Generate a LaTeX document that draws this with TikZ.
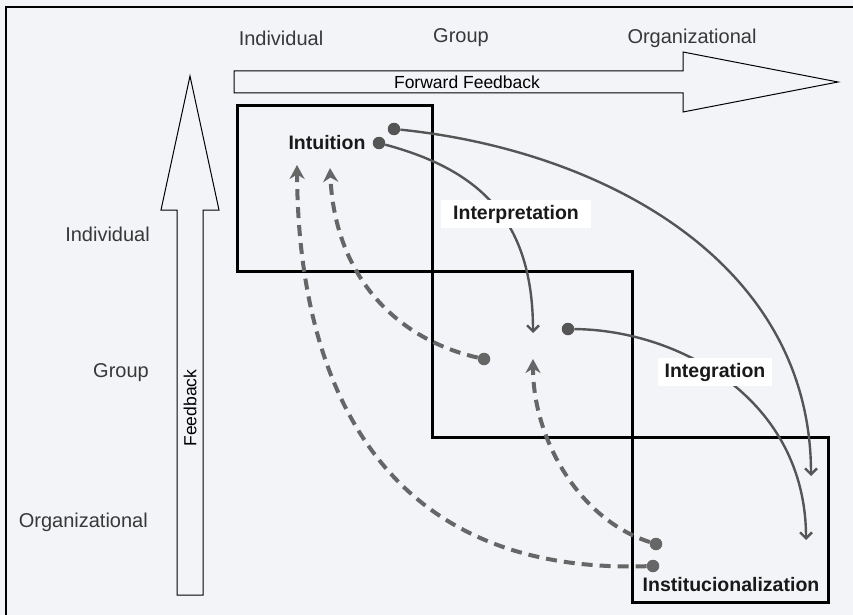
\documentclass[tikz,border=0pt]{standalone}
\usepackage{fontspec}
\setmainfont{Liberation Sans}
\usetikzlibrary{arrows.meta}
\definecolor{paper}{HTML}{F3F4F8}
\definecolor{flow}{HTML}{555555}
\definecolor{back}{HTML}{666666}
\definecolor{ink}{HTML}{383838}

\begin{document}
\begin{tikzpicture}[x=1pt,y=-1pt,
  level/.style={font=\fontsize{20}{24}\selectfont, text=ink, inner sep=0pt},
  stage/.style={font=\bfseries\fontsize{19.5}{23}\selectfont, text=black!90, inner sep=2pt},
  band/.style={draw=black, line width=3pt},
  bigarrow/.style={draw=black, line width=1pt, fill=paper, line join=miter},
  arrowtext/.style={font=\fontsize{17.5}{21}\selectfont, text=black, inner sep=0pt},
  dot/.style={circle, fill=#1, inner sep=0pt, minimum size=12.5pt},
  forward/.style={draw=flow, line width=2.4pt,
    -{Straight Barb[length=6pt,width=12pt,line width=2.4pt]}},
  feedback/.style={draw=back, line width=4pt, dash pattern=on 11pt off 7pt,
    -{Stealth[length=14pt,width=15pt,inset=4.5pt]}}
]
% canvas and frame
\fill[paper] (0,0) rectangle (853,615);
\useasboundingbox (0,0) rectangle (853,615);
\draw[line width=2.4pt] (6,615) -- (6,7) -- (853,7);

% level headings
\node[level] (topInd) at (281,38) {Individual};
\node[level] (topGrp) at (461,38) {Group};
\node[level] (topOrg) at (692,38) {Organizational};
\node[level, anchor=east] (sideInd) at (150,234) {Individual};
\node[level, anchor=east] (sideGrp) at (149,373) {Group};
\node[level, anchor=east] (sideOrg) at (148,522) {Organizational};

% broad arrows
\draw[bigarrow] (234,71) -- (683,71) -- (683,52) -- (838,82) -- (683,112)
  -- (683,93) -- (234,93) -- cycle;
\node[arrowtext] (fwd) at (467,82) {Forward Feedback};
\draw[bigarrow] (177,595) -- (177,210) -- (161,210) -- (190,76) -- (219,210)
  -- (203,210) -- (203,595) -- cycle;
\node[arrowtext, rotate=90] (fb) at (190,408) {Feedback};

% level boxes
\draw[band] (237,106) rectangle (432,271);
\draw[band] (432,271) rectangle (632,437);
\draw[band] (632,437) rectangle (828,602);

% start dots and end points
\node[dot=flow] (s1) at (394,129) {};
\node[dot=flow] (s2) at (379,143) {};
\node[dot=flow] (s3) at (568,329) {};
\node[dot=back] (b1) at (484,359) {};
\node[dot=back] (b2) at (656,544) {};
\node[dot=back] (b3) at (653,566) {};
\coordinate (e1) at (811,476);
\coordinate (e2) at (533,333);
\coordinate (e3) at (806,540);
\coordinate (f1) at (330,168);
\coordinate (f2) at (533,359);
\coordinate (f3) at (297,165);

% feed-forward flows
\draw[forward] (s1) .. controls (600,150) and (811,260) .. (e1);
\draw[forward] (s2) .. controls (480,170) and (533,220) .. (e2);
\draw[forward] (s3) .. controls (680,330) and (806,400) .. (e3);

% feedback flows
\draw[feedback] (b1) .. controls (400,340) and (335,280) .. (f1);
\draw[feedback] (b2) .. controls (580,520) and (533,440) .. (f2);
\draw[feedback] (b3) .. controls (365,575) and (298,360) .. (f3);

% process labels
\node[stage] (intuition) at (327,143) {Intuition};
\node[stage, fill=white, inner xsep=12pt, inner ysep=5pt] (interp) at (516,214) {Interpretation};
\node[stage, fill=white, inner xsep=7pt, inner ysep=5pt] (integ) at (715,372) {Integration};
\node[stage] (instit) at (731,585) {Institucionalization};
\end{tikzpicture}
\end{document}
